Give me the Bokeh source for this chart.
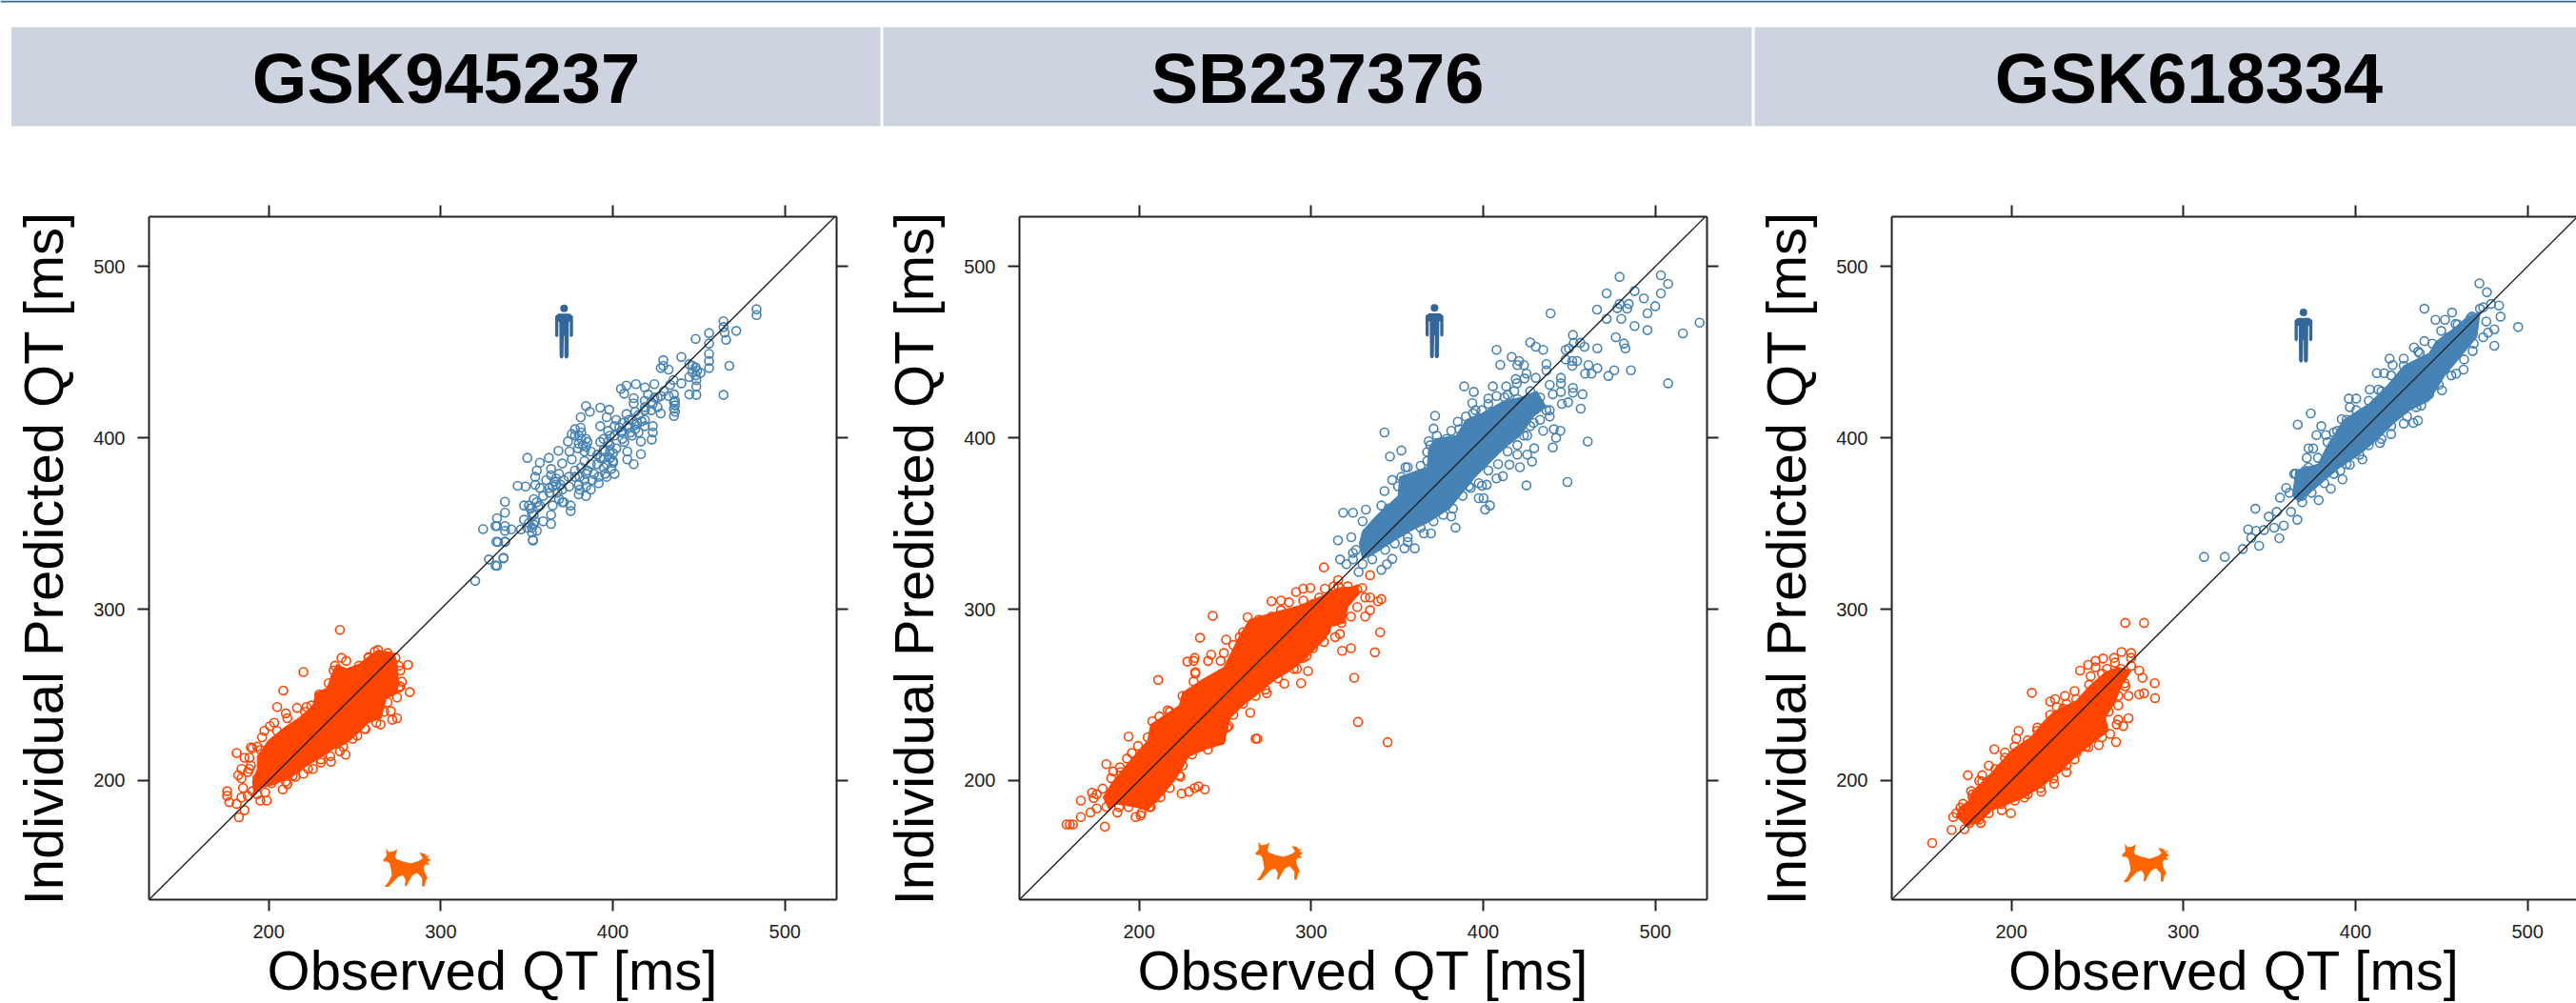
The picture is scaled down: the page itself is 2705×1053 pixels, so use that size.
from bokeh.embed import file_html
from bokeh.resources import INLINE
from bokeh.plotting import figure
from bokeh.layouts import column, row
from bokeh.models import LinearAxis, Range1d, FixedTicker
from bokeh.core.properties import value

DRUGS = ["GSK945237", "SB237376", "GSK618334"]
TICKS = [200, 300, 400, 500]
X_LABEL = "Observed QT [ms]"
Y_LABEL = "Individual Predicted QT [ms]"

# --- Readings from the picture, (observed, predicted) in ms.  *_CORE is the outline of the
# area where the open circles overlap into a solid mass; *_PTS are circles read one by one,
# *_EDGE the circles read along the rim of that mass.
P1_HUMAN_PTS = [(483.5,475),(483.5,471.6),(464.3,468),(464.3,464.6),(465,461.4),(465.8,457.2),(471.7,462.4),(448.1,457.7),(455.9,461.1),(455.9,455),(455.9,449),(455.9,444.8),(455.9,440.7),(467.7,442),(464.3,425),(439.8,447.2),(429.3,445.3),(429.3,442),(427.8,440.7),(432.4,439.8),(444.4,442.9),(448.1,441),(450.9,437.9),(444.4,435.5),(448.5,433.7),(448.5,430),(448.5,425),(439.8,431.8),(435.2,433.7),(444.4,425.3),(424.1,431.3),(418.6,429.4),(413.4,431.3),(407.9,430.5),(404.7,428.5),(406.6,425.7),(412.1,423.1),(412.1,420.1),(435.5,425.3),(435.5,420.7),(435.5,417),(435.5,412.7),(427.8,414.2),(432.4,424.4),(427.8,424.4),(423.2,419.8),(418.6,417.9),(413,415.2),(407.9,413.9),(384.4,418.5),(386.6,415.2),(392.7,417.6),(397.9,416.4),(381.3,412),(396.4,412),(392.7,406.8),(381.3,405.9),(423.2,406.8),(423.2,403.1),(422.6,399),(418.6,410.5),(414,408.7),(409.3,405.9),(402,410.5),(403.8,405.9),(398.3,401.3),(376.1,402.2),(380.2,401.3),(384.4,399.4),(384.4,394.8),(380.2,396.6),(373.9,397.9),(392.7,397.6),(397.3,397.6),(416.3,397.9),(411.2,401.3),(406.6,397.6),(416.3,390.5),(408.4,392),(412.1,384.6),(408.4,387.4),(368.4,392.4),(374.8,392),(376.1,387.4),(362.8,388.3),(350.3,388.3),(370.6,385),(357.6,385.5),(355.8,380.9),(364.1,381.8),(401,379),(396.4,377.2),(400.1,385.5),(394.6,388.3),(400.1,391),(387.2,392),(390.9,384.6),(385.3,380.9),(378,377.2),(391.8,373.5),(387.2,369.8),(384.4,366),(380.2,367),(380.2,372.6),(374.6,371.6),(368.7,379),(371.5,375.3),(366,374.4),(361.3,375.3),(354.9,377.2),(354.9,372.6),(344.7,372),(349.3,371.6),(357.6,370.8),(363.2,370.7),(367.8,367.9),(375.5,360.5),(375.5,357.2),(370.6,362.4),(365,360.5),(354,364.2),(356.7,359.6),(348.4,360.5),(337.3,362.7),(337.3,356.3),(364.1,355),(364.1,349.8),(359.5,351.3),(354,355),(348.4,352.2),(354,349.4),(353,344.8),(353.6,340.1),(355.8,345.7),(346.6,346.6),(341,346.6),(337.3,348.5),(337.3,345.7),(332.7,353.1),(332.7,348.5),(333.3,339.2),(337.3,339.2),(336.4,329.6),(332.7,325.3),(320,316.5),(331.8,325.5),(328,329),(336.5,330),(332.3,339.4),(337.4,339.4),(353.5,340.5),(324.6,346.7),(331.8,348.5),(352.1,358.7),(355.8,362.4),(359.5,366.1),(363.2,367.9),(366.9,372.6),(370.6,369.8),(374.3,377.2),(378,380.9),(381.6,382.7),(383.5,386.4),(387.2,384.6),(390.9,390.1),(394.6,392.9),(398.3,395.7),(401,401.3),(404.7,403.1),(408.4,406.8),(411.2,410.5),(414.9,413.3),(418.6,416.1),(422.3,420.7),(426,423.5),(429.6,427.2),(433.3,430.9),(383.5,375.3),(389,379),(394.6,382.7),(398.3,388.3),(402,393.8),(405.6,399.4),(413,405),(418.6,406.8),(381.6,403.1),(378,405)]
P1_HUMAN_EDGE = [(378,401.3),(381.6,399.4),(385.3,397.6),(379.8,393.8),(383.5,392),(382.6,395.7),(394.6,399.4),(398.3,392),(400.1,386.4),(396.4,384.6),(395.5,379),(399.2,381.8),(392.7,388.3),(395.5,392),(397.3,404),(401,406.8),(380.7,377.2),(384.4,379),(388.1,375.3),(391.8,377.2),(380.7,369.8),(384.4,371.6),(351.2,360.5),(353,355.9),(354.9,351.3),(351.2,350.3),(357.6,360.5),(350.3,347.5),(353,347.5),(364.1,378.1),(366.9,376.3),(369.6,372.6),(365,371.6),(368.7,364.2),(371.5,362.4),(405.6,408.7),(409.3,410.5),(413,407.7),(416.7,409.6),(405.6,404),(410.3,403.1),(414.9,403.1),(420.4,425.3),(424.1,423.5),(418.6,421.6),(422.3,416.1),(426,417.9),(446.3,442),(449,439.2),(446.3,438.3),(448.1,436.4),(436.1,421.6),(436.1,418.9),(436.1,415.2)]
P1_DOG_CORE = [(263.5,276.2),(272.8,274.4),(274.6,268.8),(275.5,256.8),(274.6,251.2),(268.2,247.5),(265.4,236.4),(258,233.7),(252.5,228.1),(245.1,221.6),(236.8,217.9),(228.5,212.4),(219.2,206.8),(213.7,202.2),(202.6,197.5),(195.2,195.7),(191.5,192),(190.6,199.4),(193.4,206.8),(193.4,214.2),(199.9,223.5),(209.1,230.9),(217.4,236.4),(225.7,243.8),(227.5,251.2),(234,254),(236.8,262.4),(239.5,267.9),(245.1,265.1),(252.5,267.9),(258,272.5)]
P1_DOG_PTS = [(241.4,287.9),(220.2,263.3),(208.5,252.5),(205,242.9),(281,267.5),(282,251.6),(242.3,271.6),(245.1,269.8),(258,272),(263.5,276.2),(275.5,267),(276.5,254.9),(274.6,248.5),(270.9,240.5),(274.6,236.4),(271.8,235.5),(265,232.7),(255.8,230.3),(251.5,226.2),(244.7,215.1),(241.4,217),(236.2,210.9),(230.3,212.4),(225.7,206.8),(220.2,204),(214,202.7),(210.9,197.9),(208.2,194.8),(198.9,188.3),(195.2,188.3),(186,182.7),(182.7,178.6),(175.9,193.8),(175.9,191.1),(177.1,187.4),(181.4,186.4),(184.2,190.1),(187.9,191),(182.3,203.1),(184.2,206.8),(181.4,216.1),(186,213.3),(189.7,208.7),(189.7,219.4),(193.4,219.8),(197.5,229),(203.2,233.7),(204.8,229),(210,239.2),(216.5,242.4),(222,242.9),(238.6,267),(193.4,201.2),(187.9,205)]
P1_DOG_EDGE = [(190.6,218.8),(196.2,225.3),(200.8,231.8),(210.9,236.4),(221.1,240.1),(224.8,243.8),(229.4,250.3),(234.9,256.8),(237.7,264.2),(243.2,263.3),(247.8,263.3),(252.5,267),(258,271.6),(261.7,275.3),(269.1,274.4),(273.7,271.6),(276.5,264.2),(277.4,257.7),(275.5,254),(269.1,245.7),(267.2,240.1),(262.6,233.7),(256.2,230),(248.8,224.4),(243.2,219.8),(235.8,214.2),(230.3,210.5),(222.9,206.8),(215.5,202.2),(210,199.4),(201.7,198.5),(198,193),(193.4,192),(190.6,193.8),(185.1,195.7),(184.2,201.2),(188.8,206.8),(188.8,213.3),(195.2,217.9)]
P2_HUMAN_CORE = [(431.1,427.2),(436.7,418),(429.2,412.4),(421.7,401.3),(412.3,393.9),(403,384.6),(395.5,377.2),(388,368),(380.5,358.7),(369.2,351.3),(358,345.7),(348.6,340.2),(337.4,332.8),(329.9,329.1),(328,338.3),(329.9,345.7),(338.3,355),(350.5,366.1),(351.4,377.2),(361.7,380.9),(367.4,382.8),(368.3,393.9),(372,399.4),(384.2,401.3),(389.9,410.5),(399.2,414.3),(412.3,421.7),(421.7,423.5)]
P2_HUMAN_PTS = [(479.2,493.9),(503.2,494.8),(507.4,489.8),(487.9,485.6),(471.7,484.3),(503.2,484.3),(493.3,481.3),(499.9,476.8),(495.4,472.6),(479.2,478.1),(484.5,478.1),(483.6,475.4),(477.9,475.7),(466.1,474.8),(471.7,469.4),(480.2,469.4),(487.9,465.2),(495.4,462.8),(525.7,467.2),(516,460.9),(439.1,472.6),(477,458.7),(481.7,455),(482.6,452.2),(466.3,452.2),(452.1,460),(456.4,455.4),(458.8,453.1),(447.9,451.3),(449.8,452.2),(452.6,455.4),(427.3,455.6),(430.5,453.1),(434.8,451.3),(407.7,451.3),(409.9,442.6),(416.5,447.2),(420.8,444.8),(419.8,442.4),(423.6,442.4),(447.9,445.7),(451.7,444.8),(454.5,444.8),(451.7,442),(461.1,442.4),(466.3,440.6),(476.1,439.4),(485.8,439.4),(472.7,436.1),(459.2,437.4),(462.9,437.4),(507.4,431.8),(436.7,443),(436.7,439.3),(425.1,437.4),(418.9,434.3),(424,434.6),(430.5,435),(445.1,435),(445.1,431.8),(452.1,429.1),(452.1,426.3),(457.7,425.4),(445.1,426.8),(438.6,430.9),(440.4,425.4),(445.7,419.8),(449.3,420.7),(456.6,417),(388.9,430),(394.5,426.8),(405.6,430),(413.3,430),(419.5,431.8),(403,423),(407.7,424.4),(414.2,425),(418,427.2),(393.6,420.2),(399.2,416.1),(372,412.8),(394,414.3),(385.2,409.4),(371.1,405.4),(381.4,404.1),(368.3,398),(342.6,403.1),(352.4,392.6),(345.8,389.1),(367.4,391.7),(354.8,382.8),(347.1,375.4),(342.6,368.9),(340.8,360.5),(331.8,358.1),(324.3,356.3),(318.6,356.3),(329.9,351.3),(323.3,342),(315.6,340.2),(316.8,329),(320.5,326.3),(324.3,332.8),(327.6,321.7),(340.8,323),(344,326.3),(347.1,329.4),(354.2,335.5),(360.2,335.5),(356.1,339.2),(369.6,344.2),(365.5,344.2),(383.9,347.6),(381.4,354.1),(401.1,358.1),(403.9,360.5),(397.4,364.8),(400.2,364.8),(399.2,372),(392.7,370.7),(402,372.6),(411.4,377.6),(407.7,376.3),(415.2,384.3),(421.3,382.8),(425.1,372.2),(448.9,374.2),(428.3,386.1),(425.5,390.2),(429.6,393.9),(419.8,390.2),(440.4,394.4),(442.3,400),(444.8,404.1),(441,405),(460.7,397.8),(434.8,404.1),(425.5,401.3),(438.6,416.1),(438.6,412.4),(430.2,418.9),(429.2,408.7),(421.7,410.5)]
P2_HUMAN_EDGE = [(331.8,338.3),(335.5,345.7),(341.1,351.3),(344.9,358.7),(350.5,371.7),(352.4,377.2),(356.1,382.8),(363.6,383.7),(367.4,386.5),(369.2,395.7),(373,401.3),(378.6,399.4),(386.1,405),(389.9,412.4),(395.5,416.1),(403,419.8),(412.3,423.5),(419.8,422.6),(427.3,427.2),(433,423.5),(436.7,416.1),(433,410.5),(427.3,406.8),(423.6,401.3),(419.8,395.7),(414.2,392),(408.6,384.6),(403,380.9),(397.4,373.5),(391.7,371.7),(388,366.1),(382.4,358.7),(376.7,355),(371.1,351.3),(363.6,347.6),(356.1,342),(348.6,338.3),(343,334.6),(335.5,329.1),(329.9,326.3),(324.3,329.1),(326.1,334.6)]
P2_DOG_CORE = [(326.8,313.3),(327.7,308.7),(321.3,301.3),(319.4,292),(312,290.2),(308.4,282.8),(302.8,277.2),(295.4,269.8),(288.1,264.2),(278.8,258.7),(267.7,249.4),(260.4,243.9),(253,236.5),(249.3,221.6),(238.2,218),(229,214.2),(221.6,201.3),(214.2,192),(205,182.7),(197.6,184.6),(186.5,186.4),(182.8,182.7),(179.1,190.2),(184.7,199.4),(193.9,210.5),(205,223.5),(206.8,232.7),(223.4,243.9),(225.3,251.3),(236.4,258.7),(249.3,266.1),(258.5,284.6),(264.1,293.9),(277,297.6),(293.6,302.2),(306.5,307.8),(315.7,312.4)]
P2_DOG_PTS = [(242.8,296.1),(235.4,283.3),(211.1,258.7),(193.9,225.7),(228.1,269.4),(232.3,271.6),(250.6,282.2),(263.1,295.3),(277,304.6),(282.5,305),(287.1,304),(291.2,310),(295.4,312),(299.5,312.4),(308,312),(313,313.3),(315.7,317),(334.2,319.8),(307.4,324.4),(340.7,305.9),(338.8,304.6),(334.2,306.8),(329.6,312.4),(334.2,299.4),(331.4,295.7),(340.1,286.5),(337,274.8),(323.1,277.2),(318,275.7),(313.9,283.7),(316.7,285.5),(313,292.9),(325,260),(327.2,234.2),(344.4,222.4),(267.7,224.4),(268.7,224.4),(298.2,263.9),(294.1,256.8),(284.4,256.5),(274.2,250.9),(291.7,265.2),(264.6,239.6),(252.1,231.8),(238.2,194.8),(234.5,196.6),(232.3,195.7),(229,193.5),(224.7,192.4),(224,202.2),(216.6,240.9),(211.8,237.4),(199.4,220.2),(193,212.8),(188.9,207.7),(181,209.6),(185,205.3),(178.8,195.3),(172.7,192.9),(173.6,189.8),(166.2,188.3),(166.2,178.7),(171.8,181.4),(175.4,183.7),(187.4,181.3),(180.1,173.1),(157.9,174.4),(159.8,174.4),(161.6,174.4),(198,178.7),(200.9,179.6),(205.9,184.6),(209,189.8),(231.7,269.8),(241.9,273.5),(249.3,274.4),(258.5,283.7),(270.5,280.9),(277,295.7),(301,303.1),(306.5,299.4),(305.6,290.2),(300.1,280.9),(297.3,272.6),(232.7,263.3),(231.7,257.8)]
P2_DOG_EDGE = [(315.7,313.3),(321.3,313.3),(326.8,311.5),(331.4,306.8),(326.8,301.3),(323.1,295.7),(317.6,292),(308.4,287.4),(307.4,280.9),(301,277.2),(295.4,271.6),(289.9,265.2),(280.7,259.6),(273.3,253.1),(267.7,249.4),(260.4,244.8),(254.8,238.3),(251.1,230.9),(247.4,223.5),(240,218),(230.8,215.2),(225.3,208.7),(223.4,203.1),(217.9,195.7),(212.4,190.2),(206.8,184.6),(201.3,180.9),(193.9,184.6),(188.4,184.6),(181,184.6),(175.4,192),(183.8,201.3),(189.3,205),(195.8,216.1),(205,225.3),(207.7,234.6),(217.9,240.2),(225.3,249.4),(232.7,262.4),(240.1,269.8),(247.4,269.8),(254.8,279.1),(260.4,286.5),(269.6,293.9),(282.5,299.4),(295.4,305),(304.7,306.8)]
P3_HUMAN_CORE = [(472.4,473.5),(470.5,458.7),(461.3,447.6),(452,436.4),(442.8,421.6),(431.7,416.1),(422.5,408.7),(413.3,399.4),(402.2,390.1),(391.1,382.8),(380.1,373.5),(367.1,362.4),(363.4,366.1),(365.3,380.9),(378.2,384.6),(383.7,395.7),(393,410.5),(407.7,419.8),(418.8,430.9),(428,442),(442.8,449.4),(446.5,455.9),(457.6,464.2),(465,470.7)]
P3_HUMAN_PTS = [(472,490.1),(476.4,484.9),(440,475.3),(456.1,473.1),(494.5,464.6),(480.7,453.7),(483.4,477.2),(484.3,470.7),(480.7,463.3),(477,461.4),(474.2,476.2),(478.8,478.1),(446.5,468.8),(452,468.8),(449.8,462.4),(458.1,466.4),(467.7,470.7),(468.1,450.7),(462.8,439.8),(458.5,437.4),(450.2,427.7),(440,456.4),(434,452.7),(436.4,450.3),(419.8,446.2),(428,446.2),(421.6,442.4),(412.4,437.7),(416.6,437.7),(408.3,428.1),(413.3,428.1),(396.1,422.9),(400.4,422.9),(396.7,417.9),(374,414.2),(366.4,407.7),(392,410.9),(380.1,406.8),(389.3,404),(377.3,401.6),(382.8,401.6),(372.7,393.8),(375.4,393.8),(371.7,388.3),(438.2,418.8),(436.3,410),(428,408.3),(433.6,408.7),(420.7,402.2),(414.2,397),(404,387.4),(396.7,384.2),(392.4,375.7),(385.6,370.3),(378.6,363.6),(369,362.4),(359.7,370.7),(356.1,365.1),(341.8,358.6),(366.2,352.2),(362.5,356.8),(358.3,348.8),(352.7,347.5),(349.6,354),(354.2,356.8),(346.8,346.2),(342.2,345.7),(337.6,346.6),(339.4,341.6),(355.7,341.4),(344,337),(334.5,335.1),(312,330.5),(324,330.5),(364.4,379),(370.8,380.9),(391.1,380.9)]
P3_HUMAN_EDGE = [(472.3,475.3),(476,467.9),(474.2,458.7),(468.7,455),(463.1,445.7),(455.7,436.4),(448.4,430.9),(442.8,425.3),(435.4,417.9),(429.9,412.4),(420.7,406.8),(415.1,399.4),(407.7,395.7),(402.2,390.1),(394.8,384.6),(387.4,379),(381.9,373.5),(374.5,367.9),(369,366.1),(361.6,367.9),(365.3,379),(372.7,382.7),(378.2,388.3),(383.7,397.5),(387.4,403.1),(394.8,410.5),(400.4,416.1),(407.7,421.6),(415.1,427.2),(420.7,436.4),(428,442),(437.3,449.4),(444.7,454.9),(453.9,458.7),(459.4,466.1),(466.8,469.8)]
P3_DOG_CORE = [(269.6,264.2),(264,255),(260.2,245.7),(254.6,236.4),(256.5,229),(247.1,221.6),(237.7,214.2),(228.3,204.9),(218.9,197.5),(207.6,190.1),(198.2,186.4),(188.8,182.7),(181.3,175.3),(173.7,173.5),(168.1,179),(170,184.6),(175.6,188.3),(177.5,193.8),(188.8,204.9),(200.1,217.9),(211.3,225.3),(218.9,234.6),(224.5,240.1),(237.7,246.6),(245.2,255),(254.6,263.3),(262.1,266.1)]
P3_DOG_PTS = [(266.2,292),(277.1,292),(211.9,251.2),(264,275),(269.6,274.4),(269.6,271.6),(259.7,271.6),(253.3,271.2),(248.9,269.8),(244.6,267.5),(239.9,264.2),(248.9,266.1),(255.5,265.1),(246.1,260.9),(263.6,265.1),(274.3,264.2),(276.2,260),(266.2,255),(283.3,256.8),(283.5,248.1),(277.1,250.9),(274.3,250.3),(268.1,249.4),(262.1,243.9),(268.1,236.4),(262.1,235.5),(265,231.8),(261.2,232.7),(260.8,222.5),(250.8,220.7),(244.8,219.4),(236.7,252.2),(231.1,249.4),(225.4,247.5),(222.6,246.1),(232,244.8),(226.4,242.9),(215.1,229),(204.2,229),(202.9,224.4),(196.3,216.4),(190.1,218.3),(186.9,208.7),(174.7,203.1),(183.1,203.1),(181.3,199.9),(177.5,192),(170.4,184.2),(166.2,178.7),(165.3,171.2),(172.8,171.6),(154,163.6),(182.2,175.3),(194.4,182.7),(199.7,180.9),(207.6,190.1),(217.4,193.5),(224.9,198.1),(232,204.9),(236.7,212.4),(193.5,206.8)]
P3_DOG_EDGE = [(269.6,267),(265.9,256.8),(262.1,249.4),(256.5,240.1),(257.4,227.2),(252.7,225.3),(243.3,219.8),(237.7,216.1),(232,208.7),(224.5,201.2),(217,195.7),(209.5,192),(202,188.3),(194.4,186.4),(186.9,180.9),(181.3,177.2),(175.6,175.3),(168.1,180.9),(171.9,186.4),(177.5,190.1),(176.6,193.8),(183.1,199.4),(190.7,206.8),(196.3,213.3),(201.9,219.8),(209.5,223.5),(215.1,230.9),(222.6,238.3),(230.1,242),(237.7,247.5),(245.2,255.9),(252.7,262.4),(260.2,268.8)]

PANEL_DATA = [
    (None, P1_HUMAN_PTS + P1_HUMAN_EDGE, P1_DOG_CORE, P1_DOG_PTS + P1_DOG_EDGE),
    (P2_HUMAN_CORE, P2_HUMAN_PTS + P2_HUMAN_EDGE, P2_DOG_CORE, P2_DOG_PTS + P2_DOG_EDGE),
    (P3_HUMAN_CORE, P3_HUMAN_PTS + P3_HUMAN_EDGE, P3_DOG_CORE, P3_DOG_PTS + P3_DOG_EDGE),
]

# --- Styling and layout
HUMAN, DOG = "#4682B4", "#FF4500"
PERSON_COLOR, DOG_ICON_COLOR = "#336699", "#FF6600"
HEADER_FILL, RULE_COLOR = "#CDD3DF", "#336699"
FONT = "Liberation Sans"
FRAME_L = [156, 147, 148]
FIG_W = [923, 915, 867]
BORDER_R = [45, 46, 0]
X_END = [530, 530, 528.4]
SX, SY = 0.1846, 0.1852   # ms per unit of the icon outlines below
PERSON_BODY = [(30,55),(66,55),(76,63),(76,125),(70,129),(66,125),(66,80),(63,80),(62,190),(58,196),(52,196),(49,190),(49,125),(47,125),(46,190),(43,196),(37,196),(34,190),(33,80),(30,80),(30,125),(26,129),(20,125),(20,63)]
DOG_BODY = [(47,30),(55,42),(70,40),(82,33),(78,48),(75,58),(80,65),(100,72),(125,78),(150,70),(162,62),(152,44),(170,48),(172,55),(185,52),(176,60),(188,68),(176,72),(184,82),(170,82),(165,90),(168,105),(178,125),(172,130),(168,150),(160,150),(160,125),(145,108),(130,115),(118,135),(112,148),(105,150),(108,130),(100,115),(85,120),(70,135),(55,152),(42,152),(55,135),(65,115),(62,95),(58,78),(50,72),(40,72),(37,68),(48,55)]
PERSON_AT = [(362.8,482.6),(362.8,482.8),(360.9,480.2)]
DOG_AT = [(259.6,166.1),(260.7,170),(257.3,168.9)]

# --- Header band
hdr = figure(width=2705, height=190, x_range=Range1d(0, 2705), y_range=Range1d(190, 0),
             toolbar_location=None, output_backend="svg", x_axis_type=None, y_axis_type=None,
             outline_line_color=None, min_border=0)
hdr.grid.visible = False
hdr.quad(left=[0], right=[2705], top=[0], bottom=[2], fill_color=RULE_COLOR, line_color=None)
hdr.quad(left=[11.5, 927, 1842], right=[924, 1839, 2705], top=[28]*3, bottom=[132]*3,
         fill_color=HEADER_FILL, line_color=None)
hdr.text(x=[468, 1383, 2298], y=[82]*3, text=DRUGS, text_font=value(FONT), text_font_style="bold",
         text_font_size="74px", text_align="center", text_baseline="middle", text_color="black")

def blank_axis():
    return LinearAxis(ticker=FixedTicker(ticks=TICKS), major_label_overrides={t: "" for t in TICKS})

def style(a):
    a.major_tick_out, a.major_tick_in = 12, 0
    a.minor_tick_line_color = None
    a.axis_line_width = a.major_tick_line_width = 2
    a.axis_line_color = a.major_tick_line_color = "#222222"
    a.major_label_text_font = FONT
    a.major_label_text_font_size = "20px"
    a.major_label_text_color = "#222222"

figs = []
for i, (hcore, hpts, dcore, dpts) in enumerate(PANEL_DATA):
    p = figure(width=FIG_W[i], height=863, x_range=Range1d(130.5, X_END[i]), y_range=Range1d(130.5, 529),
               toolbar_location=None, output_backend="svg", outline_line_color=None,
               min_border_left=FRAME_L[i], min_border_right=BORDER_R[i], min_border_top=37, min_border_bottom=109)
    p.grid.visible = False
    p.xaxis.ticker = FixedTicker(ticks=TICKS)
    p.yaxis.ticker = FixedTicker(ticks=TICKS)
    p.add_layout(blank_axis(), "above")
    if i < 2:
        p.add_layout(blank_axis(), "right")
    for a in p.axis:
        style(a)
    p.below[0].major_label_standoff = 14
    p.left[0].major_label_standoff = 13

    for core, pts, col in ((hcore, hpts, HUMAN), (dcore, dpts, DOG)):
        if core:
            p.patch([c[0] for c in core], [c[1] for c in core], fill_color=col, line_color=col, line_width=1)
        p.scatter([q[0] for q in pts], [q[1] for q in pts], marker="circle", size=9,
                  fill_color=None, line_color=col, line_width=1.6)

    p.line([130.5, 530], [130.5, 530], line_color="#222222", line_width=1.4)

    ax, ay = PERSON_AT[i]
    p.patch([ax + SX*q[0] for q in PERSON_BODY], [ay - SY*q[1] for q in PERSON_BODY],
            fill_color=PERSON_COLOR, line_color=None)
    p.scatter([ax + SX*48], [ay - SY*38], marker="circle", size=8, fill_color=PERSON_COLOR, line_color=None)
    dx, dy = DOG_AT[i]
    p.patch([dx + SX*q[0] for q in DOG_BODY], [dy - SY*q[1] for q in DOG_BODY],
            fill_color=DOG_ICON_COLOR, line_color=None)

    p.below[0].axis_label = X_LABEL
    p.left[0].axis_label = Y_LABEL
    for a in (p.below[0], p.left[0]):
        a.axis_label_text_font = FONT
        a.axis_label_text_font_size = "58px"
        a.axis_label_text_font_style = "normal"
        a.axis_label_text_color = "black"
        a.axis_label_text_line_height = 0.3
    p.below[0].axis_label_standoff = -2
    p.left[0].axis_label_standoff = 17
    figs.append(p)

root = column(hdr, row(*figs, spacing=0), spacing=0)
open("out.html", "w").write(file_html(root, INLINE))
